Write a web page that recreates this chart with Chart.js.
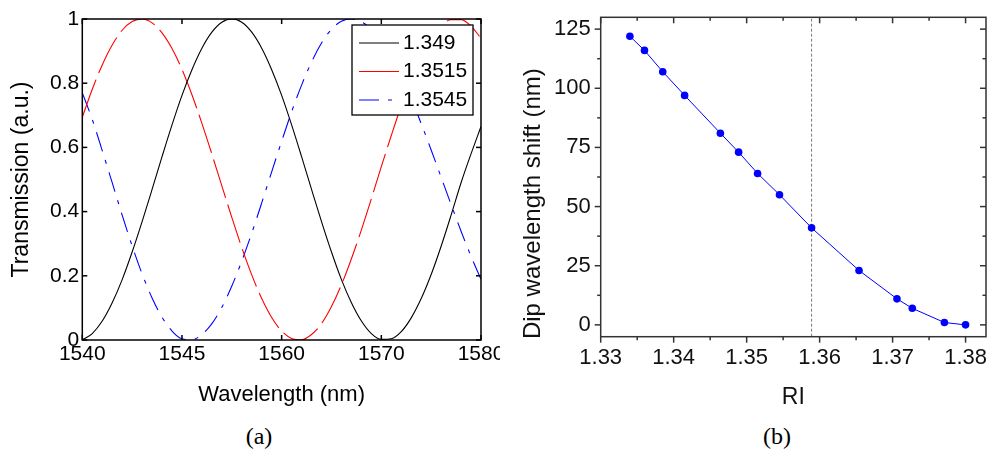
<!DOCTYPE html>
<html><head><meta charset="utf-8">
<script src="https://cdn.jsdelivr.net/npm/chart.js@4.4.1/dist/chart.umd.min.js"></script>
<style>
html,body{margin:0;padding:0;background:#fff;}
#wrap{position:relative;width:992px;height:461px;overflow:hidden;background:#fff;}
#ca{position:absolute;left:0;top:0;}
#cb{position:absolute;left:500px;top:0;}
.cap{position:absolute;top:423px;width:80px;text-align:center;font-family:"Liberation Serif","DejaVu Serif",serif;font-size:24px;color:#000;}
</style></head><body>
<div id="wrap">
<canvas id="ca" width="500" height="420"></canvas>
<canvas id="cb" width="492" height="420"></canvas>
<div class="cap" style="left:219px">(a)</div>
<div class="cap" style="left:737px">(b)</div>
</div>
<script>
// ---------- Panel (a) data ----------
const wavelengths = [1540,1541,1542,1543,1544,1545,1546,1547,1548,1549,1550,1551,1552,1553,1554,1555,1556,1557,1558,1559,1560,1561,1562,1563,1564,1565,1566,1567,1568,1569,1570,1571,1572,1573,1574,1575,1576,1577,1578,1579,1580];
const trans1349 = [0.000,0.020,0.059,0.116,0.188,0.274,0.369,0.469,0.571,0.670,0.762,0.842,0.909,0.959,0.990,1.000,0.990,0.959,0.909,0.842,0.762,0.670,0.571,0.469,0.369,0.274,0.188,0.116,0.059,0.020,0.002,0.004,0.026,0.069,0.129,0.204,0.292,0.389,0.490,0.580,0.665];
const trans13515 = [0.694,0.781,0.857,0.919,0.965,0.992,1.000,0.988,0.957,0.908,0.843,0.764,0.675,0.579,0.480,0.382,0.288,0.203,0.129,0.070,0.028,0.005,0.001,0.017,0.051,0.104,0.172,0.253,0.343,0.440,0.540,0.637,0.730,0.813,0.884,0.939,0.978,0.998,0.998,0.978,0.940];
const trans13545 = [0.770,0.687,0.590,0.490,0.389,0.293,0.206,0.131,0.071,0.028,0.004,0.001,0.017,0.051,0.102,0.168,0.246,0.333,0.427,0.524,0.619,0.711,0.794,0.866,0.925,0.968,0.993,1.000,0.991,0.968,0.931,0.882,0.821,0.752,0.674,0.592,0.507,0.422,0.339,0.261,0.189];
const seriesLabels = ['1.349','1.3515','1.3545'];
const wavelengthTickValues = [1540,1550,1560,1570,1580];
const wavelengthTickLabels = ['1540','1545','1560','1570','1580'];
const transTickValues = [0,0.2,0.4,0.6,0.8,1];

// ---------- Panel (b) data ----------
const riValues = [1.3340,1.3360,1.3385,1.3415,1.3464,1.3489,1.3515,1.3545,1.3589,1.3654,1.3706,1.3727,1.3771,1.3800];
const dipShift = [122,116,107,97,81,73,64,55,41,23,11,7,1,0];
const riTickValues = [1.33,1.34,1.35,1.36,1.37,1.38];
const shiftTickValues = [0,25,50,75,100,125];
const markerRI = 1.3589;
const riRange = [1.33,1.3828];
const shiftRange = [-5,130];

const SANS = '"Liberation Sans", Arial, sans-serif';

// frame + tick marks drawn from the scales
const framePlugin = {
  id: 'frame',
  afterDatasetsDraw(chart, args, o) {
    const {ctx, chartArea: a, scales} = chart;
    const xs = scales.x, ys = scales.y;
    ctx.save();
    ctx.strokeStyle = o.color; ctx.lineWidth = o.lineWidth; ctx.setLineDash([]);
    const seg = (x1,y1,x2,y2)=>{ctx.beginPath();ctx.moveTo(x1,y1);ctx.lineTo(x2,y2);ctx.stroke();};
    const xv = xs.ticks.map(t=>t.value), yv = ys.ticks.map(t=>t.value);
    const drawX = (vals,len)=>vals.forEach(v=>{const p=xs.getPixelForValue(v);
      seg(p,a.bottom,p,a.bottom+o.bottomDir*len); seg(p,a.top,p,a.top+o.topDir*len);});
    const drawY = (vals,len)=>vals.forEach(v=>{const p=ys.getPixelForValue(v);
      seg(a.left,p,a.left+o.leftDir*len,p); seg(a.right,p,a.right+o.rightDir*len,p);});
    drawX(xv,o.major); drawY(yv,o.major);
    if (o.minor) {
      const mid = vals=>vals.slice(1).map((v,i)=>(v+vals[i])/2);
      drawX(mid(xv),o.minor); drawY(mid(yv),o.minor);
    }
    ctx.strokeRect(a.left,a.top,a.right-a.left,a.bottom-a.top);
    ctx.restore();
  }
};

const boxLegend = {
  id: 'boxLegend',
  afterDraw(chart, args, o) {
    if (!o.show) return;
    const ctx = chart.ctx;
    ctx.save();
    ctx.fillStyle = '#fff'; ctx.fillRect(o.x,o.y,o.w,o.h);
    ctx.strokeStyle = '#000'; ctx.lineWidth = 1.3; ctx.setLineDash([]);
    ctx.strokeRect(o.x,o.y,o.w,o.h);
    ctx.font = o.fontSize + 'px ' + SANS; ctx.textBaseline = 'middle'; ctx.textAlign='left';
    chart.data.datasets.forEach((ds,i)=>{
      const y = o.y + o.firstRow + i*o.rowGap;
      ctx.strokeStyle = ds.borderColor; ctx.lineWidth = ds.borderWidth;
      ctx.setLineDash(ds.borderDash || []);
      ctx.beginPath(); ctx.moveTo(o.x+o.lineStart,y); ctx.lineTo(o.x+o.lineEnd,y); ctx.stroke();
      ctx.setLineDash([]);
      ctx.fillStyle = '#000'; ctx.fillText(ds.label, o.x+o.textX, y);
    });
    ctx.restore();
  }
};

const noPad = s => { s.paddingLeft = 0; s.paddingRight = 0; s.paddingTop = 0; s.paddingBottom = 0; };
const toXY = (xs, ys) => xs.map((x,i)=>({x, y: ys[i]}));

// ---------- Chart (a) ----------
new Chart(document.getElementById('ca'), {
  type: 'line',
  data: { datasets: [
    {label: seriesLabels[0], data: toXY(wavelengths, trans1349), borderColor:'#000000', borderWidth:1.1, pointRadius:0, cubicInterpolationMode:'monotone', fill:false},
    {label: seriesLabels[1], data: toXY(wavelengths, trans13515), borderColor:'#ff0000', borderWidth:1.1, borderDash:[40,7], pointRadius:0, cubicInterpolationMode:'monotone', fill:false},
    {label: seriesLabels[2], data: toXY(wavelengths, trans13545), borderColor:'#0000ff', borderWidth:1.1, borderDash:[20,9,4,9], pointRadius:0, cubicInterpolationMode:'monotone', fill:false}
  ]},
  options: {
    responsive:false, animation:false, devicePixelRatio:1,
    layout:{padding:{top:19,right:19,left:0,bottom:0}},
    plugins:{
      legend:{display:false}, tooltip:{enabled:false},
      frame:{color:'#000', lineWidth:1.5, major:5, minor:0, bottomDir:-1, topDir:1, leftDir:1, rightDir:-1},
      boxLegend:{show:true, x:352, y:25, w:121, h:90, firstRow:18, rowGap:28.5, lineStart:7, lineEnd:47, textX:51, fontSize:21}
    },
    scales:{
      x:{type:'linear', min:1540, max:1580,
        afterBuildTicks: s=>{ s.ticks = wavelengthTickValues.map(v=>({value:v})); },
        afterFit: s=>{ s.height = 80; noPad(s); },
        grid:{display:false, drawTicks:false}, border:{display:false},
        ticks:{callback:(v,i)=>wavelengthTickLabels[i], color:'#000', font:{family:SANS,size:21}, padding:2, maxRotation:0, autoSkip:false},
        title:{display:true, text:'Wavelength (nm)', color:'#000', font:{family:SANS,size:22}, padding:{top:0,bottom:11.8}}
      },
      y:{type:'linear', min:0, max:1,
        afterBuildTicks: s=>{ s.ticks = transTickValues.map(v=>({value:v})); },
        afterFit: s=>{ s.width = 82.3; noPad(s); },
        grid:{display:false, drawTicks:false}, border:{display:false},
        ticks:{callback:v=>String(+(+v).toFixed(1)), color:'#000', font:{family:SANS,size:21}, padding:3, autoSkip:false},
        title:{display:true, text:'Transmission (a.u.)', color:'#000', font:{family:SANS,size:23}, padding:{top:8.2,bottom:0}}
      }
    }
  },
  plugins:[framePlugin, boxLegend]
});

// ---------- Chart (b) ----------
new Chart(document.getElementById('cb'), {
  type: 'line',
  data: { datasets: [
    {label:'Dip wavelength shift', data: toXY(riValues, dipShift), borderColor:'#0000ff', backgroundColor:'#0000ff', borderWidth:1, pointRadius:3.8, pointBorderWidth:0, pointBackgroundColor:'#0000ff', tension:0, fill:false},
    {label:'marker', data:[{x:markerRI,y:shiftRange[0]},{x:markerRI,y:shiftRange[1]}], borderColor:'#7a7a7a', borderWidth:1, borderDash:[3,2], pointRadius:0, fill:false}
  ]},
  options: {
    responsive:false, animation:false, devicePixelRatio:1,
    layout:{padding:{top:17.3,right:6,left:0,bottom:0}},
    plugins:{
      legend:{display:false}, tooltip:{enabled:false},
      frame:{color:'#333', lineWidth:1.5, major:6, minor:3.5, bottomDir:1, topDir:1, leftDir:-1, rightDir:-1},
      boxLegend:{show:false}
    },
    scales:{
      x:{type:'linear', min:riRange[0], max:riRange[1],
        afterBuildTicks: s=>{ s.ticks = riTickValues.map(v=>({value:v})); },
        afterFit: s=>{ s.height = 83.3; noPad(s); },
        grid:{display:false, drawTicks:false}, border:{display:false},
        ticks:{callback:v=>(+v).toFixed(2), color:'#111', font:{family:SANS,size:22}, padding:8, maxRotation:0, autoSkip:false},
        title:{display:true, text:'RI', color:'#111', font:{family:SANS,size:23}, padding:{top:0,bottom:8.2}}
      },
      y:{type:'linear', min:shiftRange[0], max:shiftRange[1],
        afterBuildTicks: s=>{ s.ticks = shiftTickValues.map(v=>({value:v})); },
        afterFit: s=>{ s.width = 100.7; noPad(s); },
        grid:{display:false, drawTicks:false}, border:{display:false},
        ticks:{callback:v=>String(v), color:'#111', font:{family:SANS,size:22}, padding:10, autoSkip:false},
        title:{display:true, text:'Dip wavelength shift (nm)        ', color:'#111', font:{family:SANS,size:24}, padding:{top:18.6,bottom:0}}
      }
    }
  },
  plugins:[framePlugin, boxLegend]
});
</script>
</body></html>
